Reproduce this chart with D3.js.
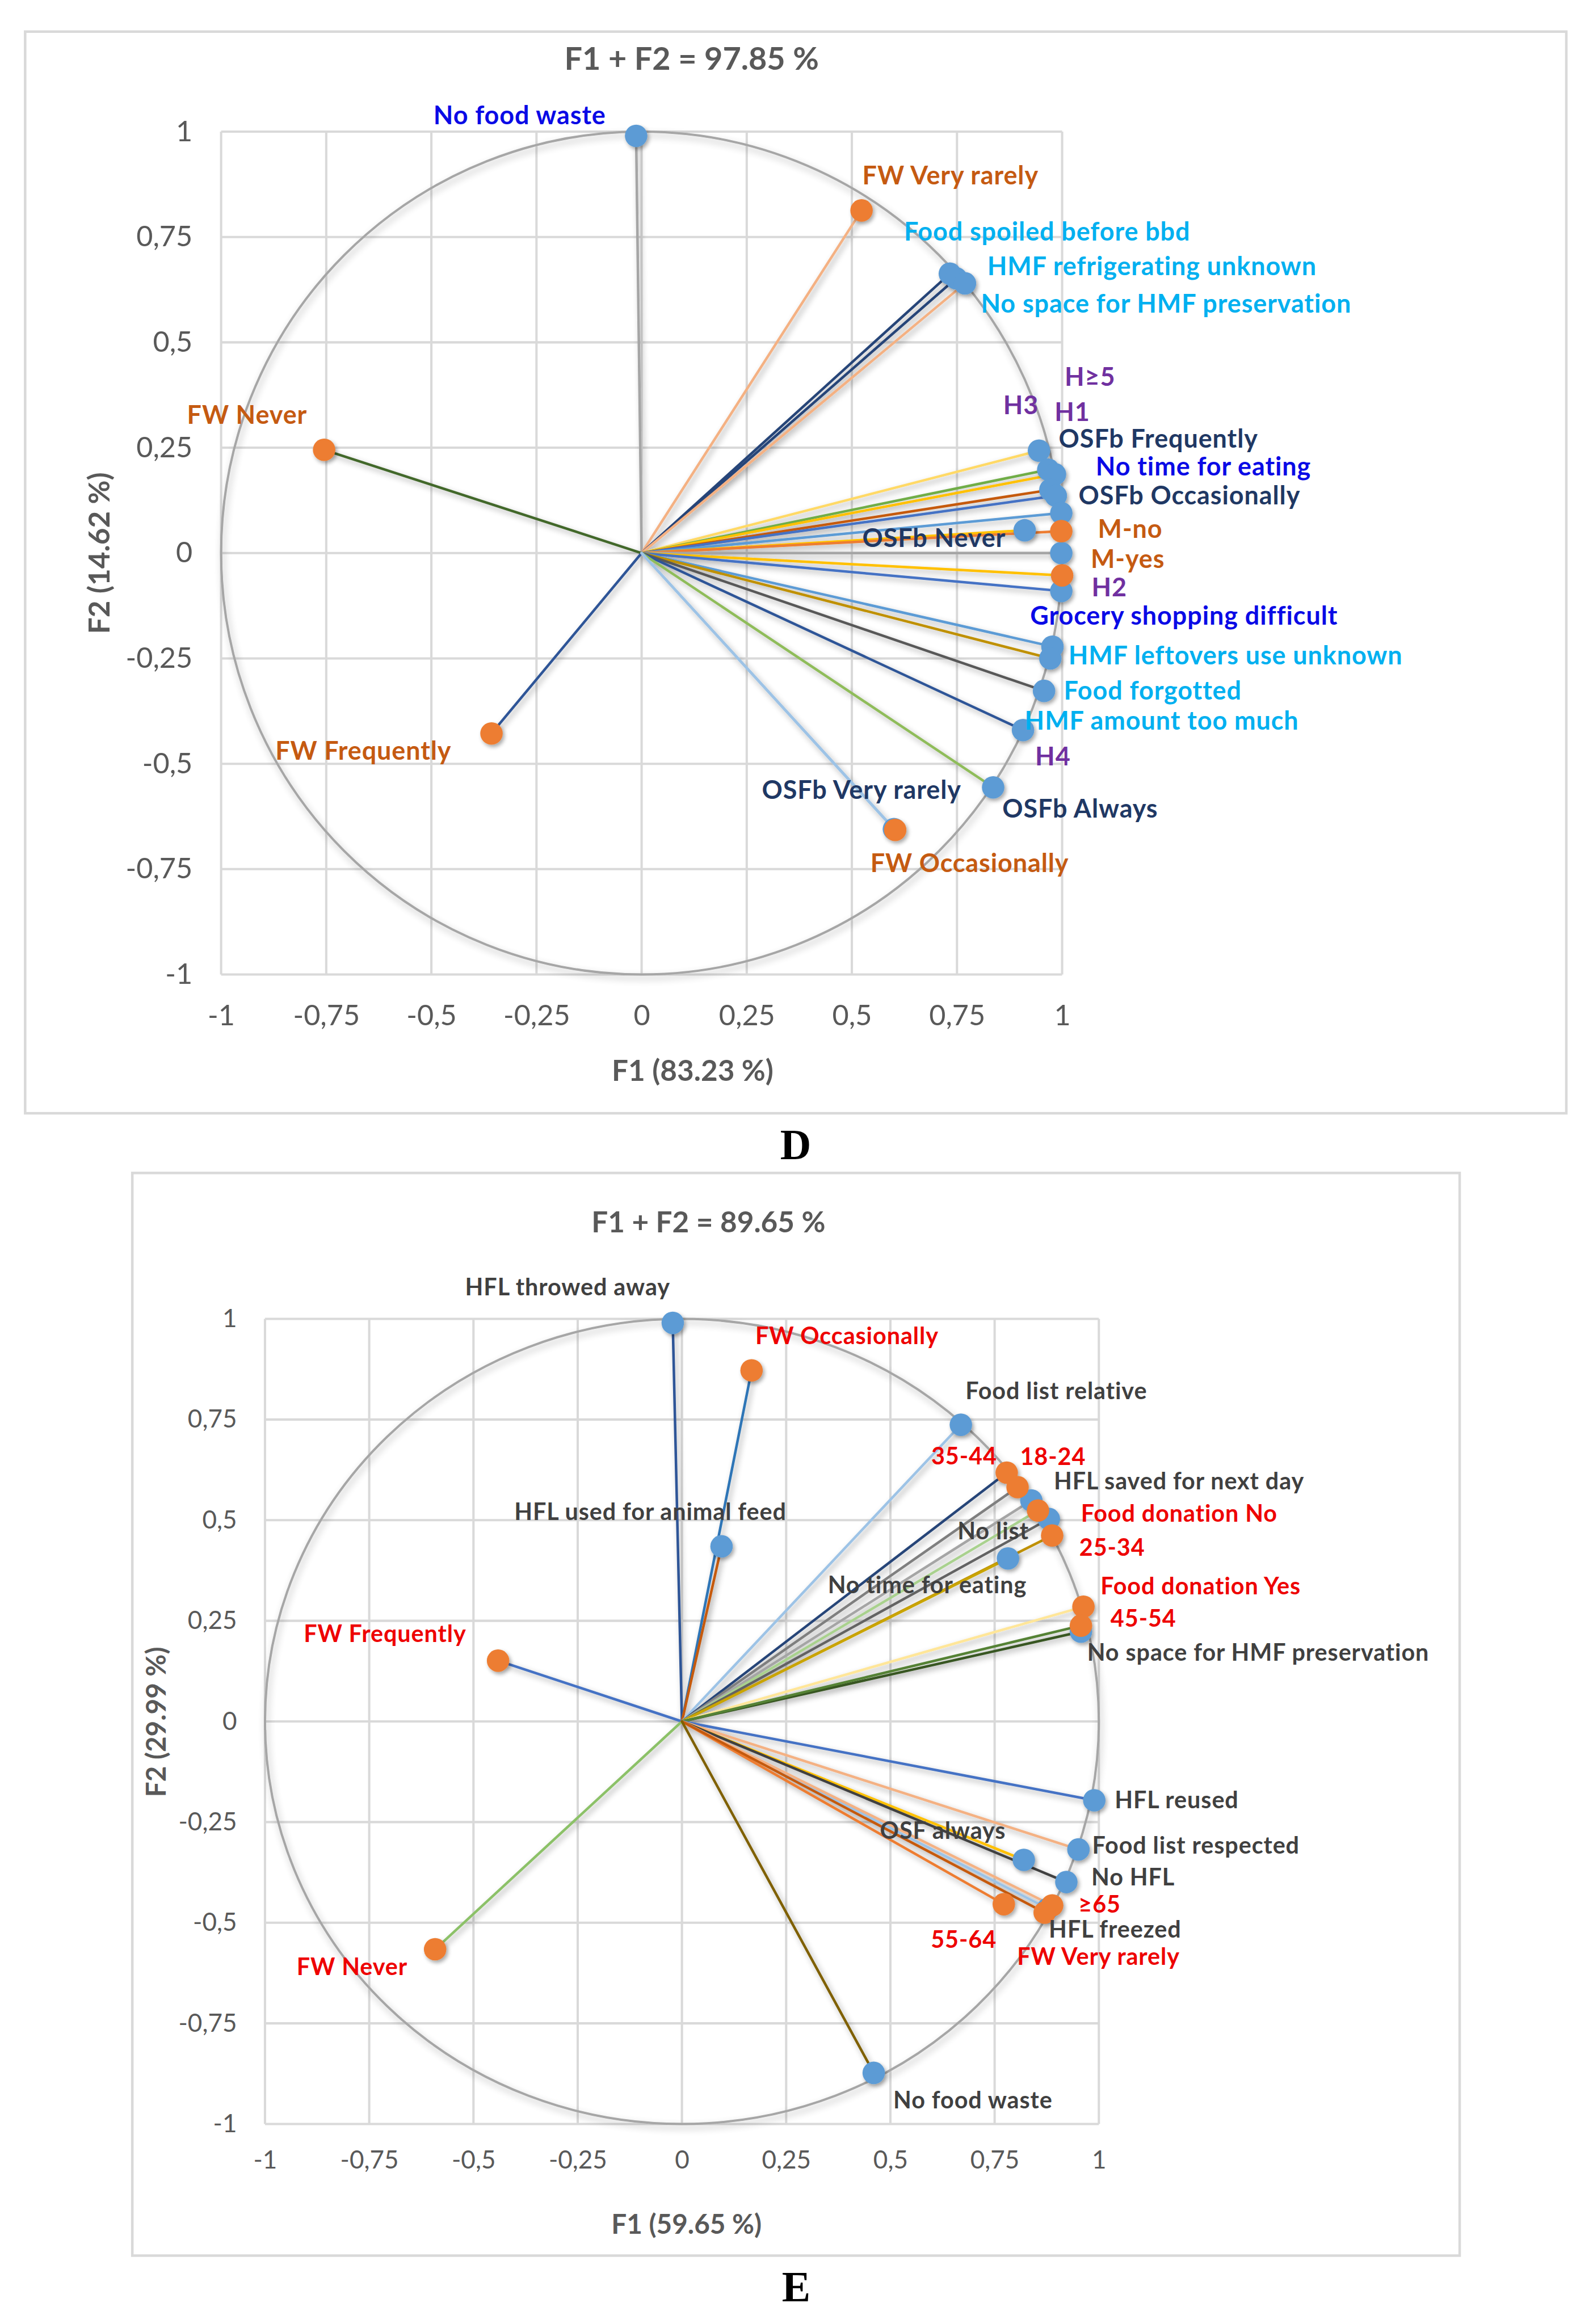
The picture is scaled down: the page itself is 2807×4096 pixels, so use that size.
<!DOCTYPE html>
<html><head><meta charset="utf-8">
<script src="https://cdn.jsdelivr.net/npm/d3@7"></script>
<style>html,body{margin:0;padding:0;background:#fff;}</style>
</head><body>
<script>
// ---------- DATA ----------
const tickValues = [-1, -0.75, -0.5, -0.25, 0, 0.25, 0.5, 0.75, 1];
const tickLabels = ["-1", "-0,75", "-0,5", "-0,25", "0", "0,25", "0,5", "0,75", "1"];

// Panel D
const dTitle = "F1 + F2 = 97.85 %";
const dXTitle = "F1 (83.23 %)";
const dYTitle = "F2 (14.62 %)";
const dLabels = ["No food waste","FW Very rarely","Food spoiled before bbd","HMF refrigerating unknown","No space for HMF preservation","FW Never","FW Frequently","OSFb Frequently","H≥5","No time for eating","H3","H1","OSFb Occasionally","OSFb Never","M-no","Grocery shopping difficult","M-yes","H2","HMF leftovers use unknown","H4","Food forgotted","HMF amount too much","OSFb Always","OSFb Very rarely","FW Occasionally"];
const dF1 = [-0.013,0.523,0.733,0.748,0.769,-0.755,-0.357,0.945,0.967,0.983,0.972,0.985,0.998,0.911,0.998,0.998,1.0,0.998,0.977,0.972,0.957,0.907,0.836,0.600,0.603];
const dF2 = [0.990,0.813,0.663,0.652,0.640,0.245,-0.428,0.243,0.198,0.187,0.150,0.136,0.095,0.054,0.052,0.000,-0.053,-0.090,-0.222,-0.250,-0.327,-0.420,-0.556,-0.655,-0.657];
const dKind = ["v","c","v","v","v","c","c","v","v","v","v","v","v","v","c","v","c","v","v","v","v","v","v","v","c"];

// Panel E
const eTitle = "F1 + F2 = 89.65 %";
const eXTitle = "F1 (59.65 %)";
const eYTitle = "F2 (29.99 %)";
const eLabels = ["HFL throwed away","FW Occasionally","HFL used for animal feed","Food list relative","35-44","18-24","HFL saved for next day","Food donation No","No list","25-34","No time for eating","Food donation Yes","No space for HMF preservation","45-54","FW Frequently","FW Never","HFL reused","Food list respected","OSF always","No HFL","55-64","HFL freezed","≥65","FW Very rarely","No food waste"];
const eF1 = [-0.022,0.167,0.095,0.669,0.779,0.805,0.838,0.854,0.880,0.888,0.782,0.963,0.957,0.957,-0.441,-0.592,0.989,0.951,0.820,0.922,0.772,0.878,0.888,0.870,0.460];
const eF2 = [0.990,0.872,0.435,0.737,0.618,0.582,0.549,0.524,0.503,0.462,0.405,0.285,0.223,0.238,0.151,-0.566,-0.196,-0.318,-0.344,-0.399,-0.454,-0.465,-0.457,-0.475,-0.873];
const eKind = ["v","c","v","v","c","c","v","c","v","c","v","c","v","c","c","c","v","v","v","v","c","v","c","c","v"];

// ---------- STYLES (kept apart from the data) ----------
const dLineColor = ["#a5a5a5","#f4b183","#264478","#264478","#f4b183","#43682b","#2f5597","#ffd966","#70ad47","#ffc000","#c55a11","#4472c4","#5b9bd5","#ffc000","#ed7d31","#a5a5a5","#ffc000","#4472c4","#5b9bd5","#bf9000","#595959","#2f5597","#8fbc5a","#9dc3e6","#9dc3e6"];
const dLabelColor = ["#0a0ae6","#c55a11","#00b0f0","#00b0f0","#00b0f0","#c55a11","#c55a11","#1f3864","#7030a0","#0a0ae6","#7030a0","#7030a0","#1f3864","#1f3864","#c55a11","#0a0ae6","#c55a11","#7030a0","#00b0f0","#7030a0","#00b0f0","#00b0f0","#1f3864","#1f3864","#c55a11"];
// label anchor (left, baseline) in data units
const dLabelX = [-0.495,0.525,0.624,0.822,0.807,-1.081,-0.871,0.992,1.006,1.080,0.860,0.982,1.039,0.525,1.085,0.924,1.068,1.070,1.015,0.936,1.004,0.911,0.858,0.286,0.544];
const dLabelY = [1.018,0.875,0.742,0.659,0.570,0.307,-0.491,0.250,0.397,0.184,0.330,0.313,0.116,0.015,0.036,-0.170,-0.035,-0.103,-0.264,-0.504,-0.347,-0.419,-0.628,-0.583,-0.757];

const eLineColor = ["#2f5597","#2e75b6","#c55a11","#9dc3e6","#264478","#7f7f7f","#a5a5a5","#a9d18e","#636363","#bf9000","#c9a400","#ffe699","#375623","#548235","#4472c4","#8cc168","#4472c4","#f4b183","#ffc000","#404040","#ed7d31","#9dc3e6","#f4b183","#c55a11","#7f6000"];
const eLabelX = [-0.520,0.176,-0.402,0.680,0.598,0.811,0.892,0.957,0.661,0.953,0.350,1.004,0.972,1.028,-0.907,-0.924,1.038,0.984,0.475,0.982,0.597,0.880,0.951,0.804,0.507];
const eLabelY = [1.058,0.938,0.500,0.800,0.638,0.637,0.577,0.496,0.452,0.411,0.318,0.316,0.151,0.235,0.197,-0.630,-0.215,-0.328,-0.292,-0.408,-0.562,-0.537,-0.475,-0.605,-0.961];

const markerFill = {v: "#5b9bd5", c: "#ed7d31"};

// ---------- DRAW ----------
const svg = d3.select("body").append("svg")
  .attr("width", 2807).attr("height", 4096)
  .attr("viewBox", "0 0 3121 4555")
  .style("display", "block");

svg.append("rect").attr("width", 3121).attr("height", 4555).attr("fill", "#fff");

const defs = svg.append("defs");
function shadow(id, sd, dx, dy, op) {
  const f = defs.append("filter").attr("id", id)
    .attr("filterUnits", "userSpaceOnUse")
    .attr("x", 0).attr("y", 0).attr("width", 3121).attr("height", 4555);
  f.append("feGaussianBlur").attr("in", "SourceAlpha").attr("stdDeviation", sd);
  f.append("feOffset").attr("dx", dx).attr("dy", dy);
  f.append("feComponentTransfer").append("feFuncA").attr("type", "linear").attr("slope", op);
  const m = f.append("feMerge");
  m.append("feMergeNode");
  m.append("feMergeNode").attr("in", "SourceGraphic");
}
shadow("shLine", 6, 4, 6, 0.35);
shadow("shCirc", 7, 3, 7, 0.3);
shadow("shMark", 4, 3, 4, 0.35);

function panel(cfg) {
  const x = d3.scaleLinear().domain([-1, 1]).range(cfg.xr);
  const y = d3.scaleLinear().domain([-1, 1]).range(cfg.yr);
  const g = svg.append("g");

  // frame
  g.append("rect").attr("x", cfg.frame[0]).attr("y", cfg.frame[1])
    .attr("width", cfg.frame[2] - cfg.frame[0]).attr("height", cfg.frame[3] - cfg.frame[1])
    .attr("fill", "none").attr("stroke", "#d9d9d9").attr("stroke-width", 5);

  // grid
  const grid = g.append("g").attr("stroke", "#d9d9d9").attr("stroke-width", 4.5);
  grid.selectAll("line.v").data(tickValues).join("line").attr("class", "v")
    .attr("x1", d => x(d)).attr("x2", d => x(d)).attr("y1", y(1)).attr("y2", y(-1));
  grid.selectAll("line.h").data(tickValues).join("line").attr("class", "h")
    .attr("y1", d => y(d)).attr("y2", d => y(d)).attr("x1", x(-1)).attr("x2", x(1));

  // axes
  const ax = g.append("g").attr("transform", `translate(0,${y(-1)})`)
    .call(d3.axisBottom(x).tickValues(tickValues).tickFormat((d, i) => tickLabels[i]).tickSize(0).tickPadding(cfg.xPad));
  const ay = g.append("g").attr("transform", `translate(${x(-1)},0)`)
    .call(d3.axisLeft(y).tickValues(tickValues).tickFormat((d, i) => tickLabels[i]).tickSize(0).tickPadding(cfg.yPad));
  [ax, ay].forEach(a => {
    a.select(".domain").remove();
    a.selectAll("text").attr("font-family", "Lato, sans-serif").attr("font-size", cfg.tickSize).attr("fill", "#595959");
  });

  // correlation circle
  g.append("ellipse").attr("cx", x(0)).attr("cy", y(0))
    .attr("rx", x(1) - x(0)).attr("ry", y(0) - y(1))
    .attr("fill", "none").attr("stroke", "#a6a6a6").attr("stroke-width", 4.5)
    .attr("filter", "url(#shCirc)");

  const idx = d3.range(cfg.labels.length);
  // vectors
  g.append("g").attr("filter", "url(#shLine)")
    .selectAll("line").data(idx).join("line")
    .attr("x1", x(0)).attr("y1", y(0))
    .attr("x2", i => x(cfg.f1[i])).attr("y2", i => y(cfg.f2[i]))
    .attr("stroke", i => cfg.lineColor[i]).attr("stroke-width", 5).attr("stroke-linecap", "round");

  // markers: variables first, categories on top
  const order = idx.filter(i => cfg.kind[i] === "v").concat(idx.filter(i => cfg.kind[i] === "c"));
  g.append("g").attr("filter", "url(#shMark)")
    .selectAll("circle").data(order).join("circle")
    .attr("cx", i => x(cfg.f1[i])).attr("cy", i => y(cfg.f2[i])).attr("r", 22)
    .attr("fill", i => markerFill[cfg.kind[i]]);

  // labels
  g.append("g").selectAll("text").data(idx).join("text")
    .attr("x", i => x(cfg.lx[i])).attr("y", i => y(cfg.ly[i]))
    .attr("font-family", "Lato, sans-serif").attr("font-weight", "bold")
    .attr("font-size", cfg.labelSize).attr("letter-spacing", cfg.labelSpacing)
    .attr("fill", i => cfg.labelColor[i])
    .text(i => cfg.labels[i]);

  // titles
  const tt = (t, tx, ty, size, rot) => {
    const el = g.append("text").attr("font-family", "Lato, sans-serif").attr("font-weight", "bold")
      .attr("font-size", size).attr("fill", "#595959").attr("text-anchor", "middle").text(t);
    if (rot) el.attr("transform", `translate(${tx},${ty}) rotate(-90)`);
    else el.attr("x", tx).attr("y", ty);
  };
  tt(cfg.title, cfg.titlePos[0], cfg.titlePos[1], cfg.titleSize, false);
  tt(cfg.xTitle, cfg.xTitlePos[0], cfg.xTitlePos[1], cfg.axTitleSize, false);
  tt(cfg.yTitle, cfg.yTitlePos[0], cfg.yTitlePos[1], cfg.axTitleSize, true);

  svg.append("text").attr("x", cfg.letterPos[0]).attr("y", cfg.letterPos[1])
    .attr("text-anchor", "middle").attr("font-family", "'Liberation Serif', 'Times New Roman', serif")
    .attr("font-weight", "bold").attr("font-size", 84).attr("fill", "#000").text(cfg.letter);
}

panel({
  labels: dLabels, f1: dF1, f2: dF2, kind: dKind,
  lineColor: dLineColor, labelColor: dLabelColor, lx: dLabelX, ly: dLabelY,
  xr: [433, 2081], yr: [1910, 258], frame: [49, 62, 3069, 2182],
  xPad: 60, yPad: 56, tickSize: 56, labelSize: 50, labelSpacing: 1,
  title: dTitle, titlePos: [1355, 137], titleSize: 62,
  xTitle: dXTitle, xTitlePos: [1357, 2118], yTitle: dYTitle, yTitlePos: [214, 1084], axTitleSize: 57,
  letter: "D", letterPos: [1559, 2272]
});

panel({
  labels: eLabels, f1: eF1, f2: eF2, kind: eKind,
  lineColor: eLineColor, labelColor: eKind.map(k => k === "c" ? "#ee0000" : "#404040"), lx: eLabelX, ly: eLabelY,
  xr: [519, 2153], yr: [4163, 2585], frame: [259, 2299, 2860, 4421],
  xPad: 53, yPad: 55, tickSize: 49, labelSize: 46, labelSpacing: 1,
  title: eTitle, titlePos: [1388, 2415], titleSize: 57,
  xTitle: eXTitle, xTitlePos: [1345, 4378], yTitle: eYTitle, yTitlePos: [325, 3375], axTitleSize: 53,
  letter: "E", letterPos: [1560, 4510]
});
</script>
</body></html>
